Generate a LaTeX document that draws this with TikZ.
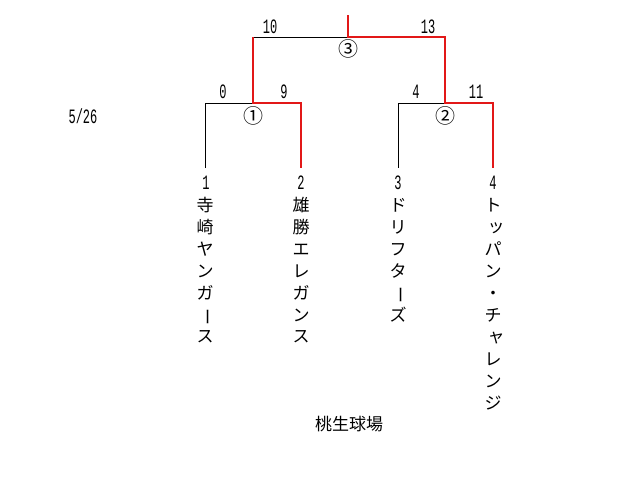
\documentclass[tikz,border=0pt]{standalone}
\usepackage{fontspec}
\newfontfamily\jp{Noto Sans CJK JP}
\newfontfamily\digfont{Liberation Mono}
\newcommand\tallnum[1]{\scalebox{1}[1.7]{\digfont\fontsize{12}{12}\selectfont #1}}
\newcommand\vchoon{\rotatebox[origin=c]{-90}{ー}}
\newcommand\smk[1]{\makebox[17pt][c]{\hspace{6pt}\raisebox{1.5pt}{#1}}}
\definecolor{wred}{RGB}{226,24,24}
\begin{document}
\begin{tikzpicture}[x=1pt,y=-1pt,
  winline/.style={draw=wred,line width=2pt,line join=miter},
  loseline/.style={draw=black,line width=0.8pt},
  score/.style={inner sep=0pt,anchor=center},
  seed/.style={inner xsep=0pt,inner ysep=8pt,anchor=center},
  ch/.style={inner sep=0pt,anchor=center,font=\jp\fontsize{17}{17}\selectfont,text height=14.5pt,text depth=1.5pt},
  circ/.style={inner sep=0pt,anchor=center,font=\jp\fontsize{20}{20}\selectfont},
  venue/.style={inner sep=0pt,anchor=center,font=\jp\fontsize{17}{17}\selectfont}]
\useasboundingbox (0,0) rectangle (627,501);
\fill[white] (0,0) rectangle (627,501);
% joints
\coordinate (top) at (348,15);
\coordinate (f) at (348,37);
\coordinate (fl) at (253,37);
\coordinate (fr) at (445,37);
\coordinate (s1) at (253,103);
\coordinate (s1l) at (205,103);
\coordinate (s1r) at (301,103);
\coordinate (s2) at (445,103);
\coordinate (s2l) at (398,103);
\coordinate (s2r) at (493,103);
% seed numbers
\node[seed] (n1) at (206,183) {\tallnum{1}};
\node[seed] (n2) at (301,183) {\tallnum{2}};
\node[seed] (n3) at (398,183) {\tallnum{3}};
\node[seed] (n4) at (493,183) {\tallnum{4}};
% losing lines
\draw[loseline] (f) -- (fl);
\draw[loseline] (s1l |- n1.north) -- (s1l) -- (s1);
\draw[loseline] (n3) -- (s2l) -- (s2);
% winning lines
\draw[winline] (top) -- (f) -- (fr) -- (s2) -- (s2r) -- (n4);
\draw[winline] (fl) -- (s1) -- (s1r) -- (n2);
% scores
\node[score] (sc10) at (270,26.5) {\tallnum{10}};
\node[score] (sc13) at (428,26.5) {\tallnum{13}};
\node[score] (sc0) at (223,92) {\tallnum{0}};
\node[score] (sc9) at (284,92) {\tallnum{9}};
\node[score] (sc4) at (416,92) {\tallnum{4}};
\node[score] (sc11) at (476,92) {\tallnum{11}};
% game numbers
\node[circ] (g3) at (348,49) {③};
\node[circ] (g1) at (253,116) {①};
\node[circ] (g2) at (445,116) {②};
% date and venue
\node[score] (date) at (83,116.5) {\tallnum{5/26}};
\node[venue] (venue) at (349,424) {桃生球場};
% team names (vertical)
\foreach \c [count=\i] in {寺,崎,ヤ,ン,ガ,\vchoon,ス}
  \node[ch] (ta\i) at (205,{205+21.9*(\i-1)}) {\c};
\foreach \c [count=\i] in {雄,勝,エ,レ,ガ,ン,ス}
  \node[ch] (tb\i) at (301,{205+21.9*(\i-1)}) {\c};
\foreach \c [count=\i] in {ド,リ,フ,タ,\vchoon,ズ}
  \node[ch] (tc\i) at (398,{205+21.9*(\i-1)}) {\c};
\foreach \c [count=\i] in {ト,\smk{ッ},パ,ン,・,チ,\smk{ャ},レ,ン,ジ}
  \node[ch] (td\i) at (493,{205+22*(\i-1)}) {\c};
\end{tikzpicture}
\end{document}
